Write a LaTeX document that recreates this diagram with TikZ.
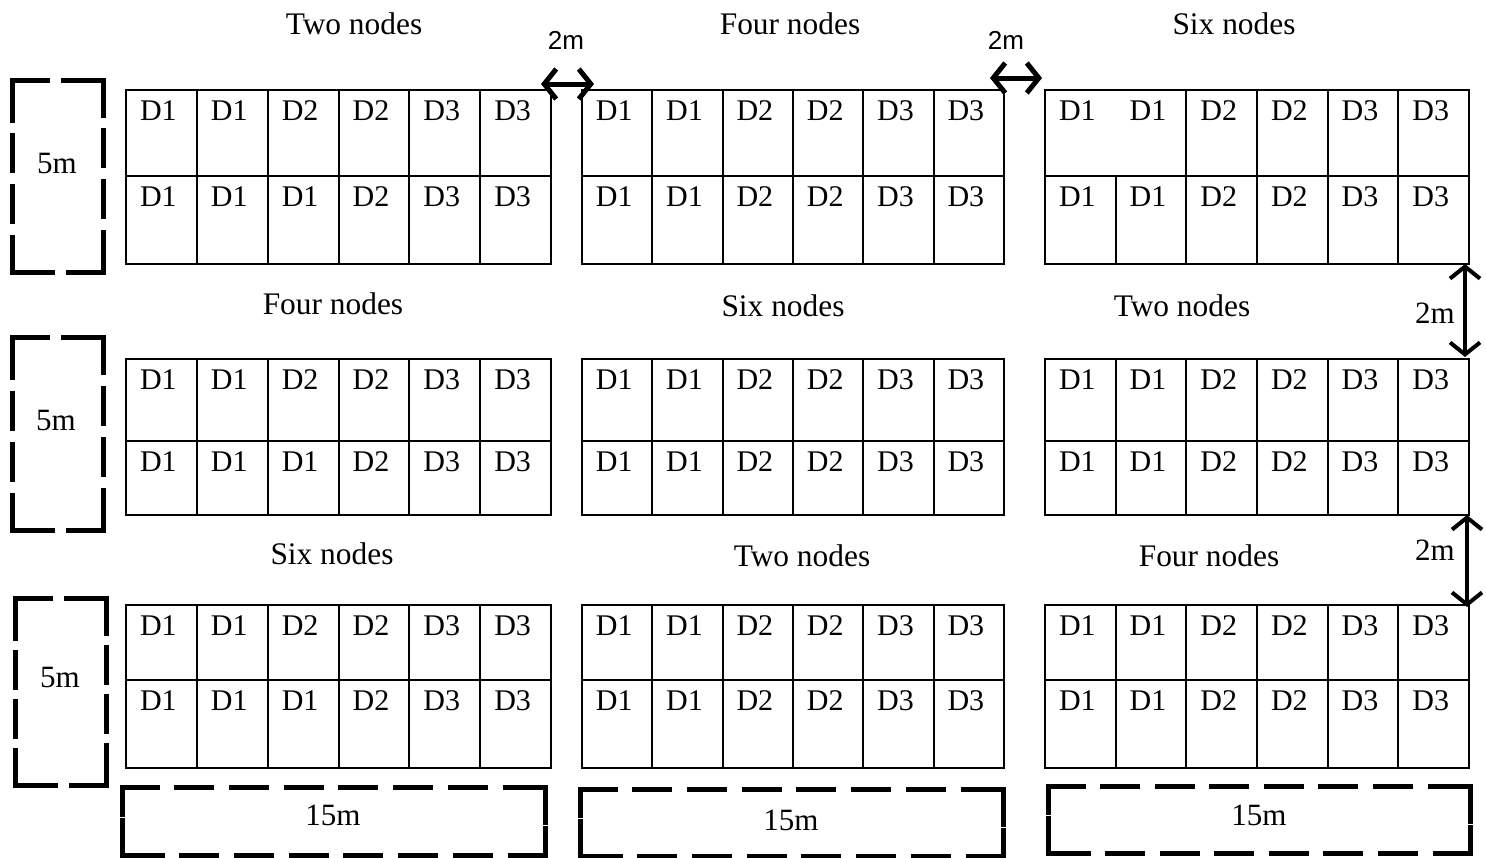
\documentclass[tikz,border=0pt]{standalone}
\usepackage{fontspec}
\setmainfont{Liberation Serif}
\setsansfont{Liberation Sans}
\usetikzlibrary{arrows.meta,calc}
\tikzset{
  plotblock/.style={draw=black, line width=1pt, inner sep=0pt, outer sep=0pt, anchor=north west},
  gridline/.style={draw=black, line width=1pt},
  cellname/.style={inner sep=0pt, anchor=north, font=\fontsize{15}{18}\selectfont},
  fieldtitle/.style={inner sep=0pt, font=\fontsize{15.7}{18}\selectfont},
  dimtext/.style={inner sep=0pt, font=\fontsize{15.5}{18}\selectfont},
  gaptext/.style={inner sep=0pt, font=\sffamily\fontsize{13}{16}\selectfont},
  fieldline/.style={draw=black, line width=2.5pt, line cap=rect},
  gaparrow/.style={draw=black, line width=2.5pt,
    {Straight Barb[length=6pt,width=15pt]}-{Straight Barb[length=6pt,width=15pt]}},
}
\begin{document}
\begin{tikzpicture}[x=0.5pt, y=-0.5pt]
\useasboundingbox (0,0) rectangle (1486,857);

% plots: 3 x 3 blocks, 2 rows of 6 cells each
\foreach \row/\yt/\ym/\yb in {1/90/176/264, 2/359/441/515, 3/605/680/768} {
  \foreach \col/\xl/\xr/\botrow in {1/126/551/{1,1,1,2,3,3}, 2/582/1004/{1,1,2,2,3,3}, 3/1045/1469/{1,1,2,2,3,3}} {
    \node[plotblock, minimum width={(\xr-\xl)*0.5pt}, minimum height={(\yb-\yt)*0.5pt}] (blk\row\col) at (\xl,\yt) {};
    \draw[gridline] (\xl,\ym) -- (\xr,\ym);
    \foreach \i in {1,...,5} {
      \draw[gridline] ({\xl+\i*(\xr-\xl)/6},\ym) -- ({\xl+\i*(\xr-\xl)/6},\yb);
      \ifnum\row\col\i=131 \else
        \draw[gridline] ({\xl+\i*(\xr-\xl)/6},\yt) -- ({\xl+\i*(\xr-\xl)/6},\ym);
      \fi
    }
    \foreach \dn [count=\i] in {1,1,2,2,3,3}
      \node[cellname] (c\row\col-a\i) at ({\xl+(\i-0.5)*(\xr-\xl)/6-3},{\yt+10}) {D\dn};
    \foreach \dn [count=\i] in \botrow
      \node[cellname] (c\row\col-b\i) at ({\xl+(\i-0.5)*(\xr-\xl)/6-3},{\ym+10}) {D\dn};
  }
}

% titles
\foreach \row/\col/\x/\y/\txt in {1/1/354/24/Two nodes, 1/2/790/24/Four nodes, 1/3/1234/24/Six nodes,
    2/1/333/304/Four nodes, 2/2/783/306/Six nodes, 2/3/1182/306/Two nodes,
    3/1/332/554/Six nodes, 3/2/802/556/Two nodes, 3/3/1209/556/Four nodes}
  \node[fieldtitle] (title\row\col) at (\x,\y) {\txt};

% dashed dimension boxes, each side with its own dashes
\foreach \xa/\ya/\xb/\yb in {12/80/103/272, 12/337/103/530, 15/598/106/785,
    122/787/545/855, 580/789/1003/856, 1048/786/1470/853} {
  \foreach \pxa/\pya/\pxb/\pyb in {\xa/\ya/\xb/\ya, \xb/\ya/\xb/\yb, \xb/\yb/\xa/\yb, \xa/\yb/\xa/\ya} {
    \pgfmathsetmacro\len{veclen(\pxb-\pxa,\pyb-\pya)}
    \pgfmathtruncatemacro\nd{max(2,round((\len+18)/58))}
    \pgfmathsetmacro\gp{max(3,(\len-\nd*40)/(\nd-1)*0.5+2.5)}
    \pgfmathsetmacro\dl{40*0.5-2.5}
    \draw[fieldline, dash pattern=on \dl pt off \gp pt] (\pxa,\pya) -- (\pxb,\pyb);
  }
}
\node[dimtext] (side1) at (57,163) {5m};
\node[dimtext] (side2) at (56,420) {5m};
\node[dimtext] (side3) at (60,677) {5m};
\node[dimtext] (len1) at (333,815) {15m};
\node[dimtext] (len2) at (791,820) {15m};
\node[dimtext] (len3) at (1259,815) {15m};

% 2m gaps
\draw[gaparrow] ([shift={(-10,-6)}]blk11.north east) -- ([shift={(12,-6)}]blk12.north west);
\draw[gaparrow] ([shift={(-14,-12)}]blk12.north east) -- ([shift={(-3,-12)}]blk13.north west);
\draw[gaparrow, line width=2pt] ([shift={(-4,0)}]blk13.south east) -- ([shift={(-4,-2)}]blk23.north east);
\draw[gaparrow, line width=2pt] ([shift={(-2,0)}]blk23.south east) -- ([shift={(-2,2)}]blk33.north east);
\node[gaptext] (gap1) at (566,40) {2m};
\node[gaptext] (gap2) at (1006,40) {2m};
\node[dimtext] (gap3) at (1435,313) {2m};
\node[dimtext] (gap4) at (1435,550) {2m};

\end{tikzpicture}
\end{document}
